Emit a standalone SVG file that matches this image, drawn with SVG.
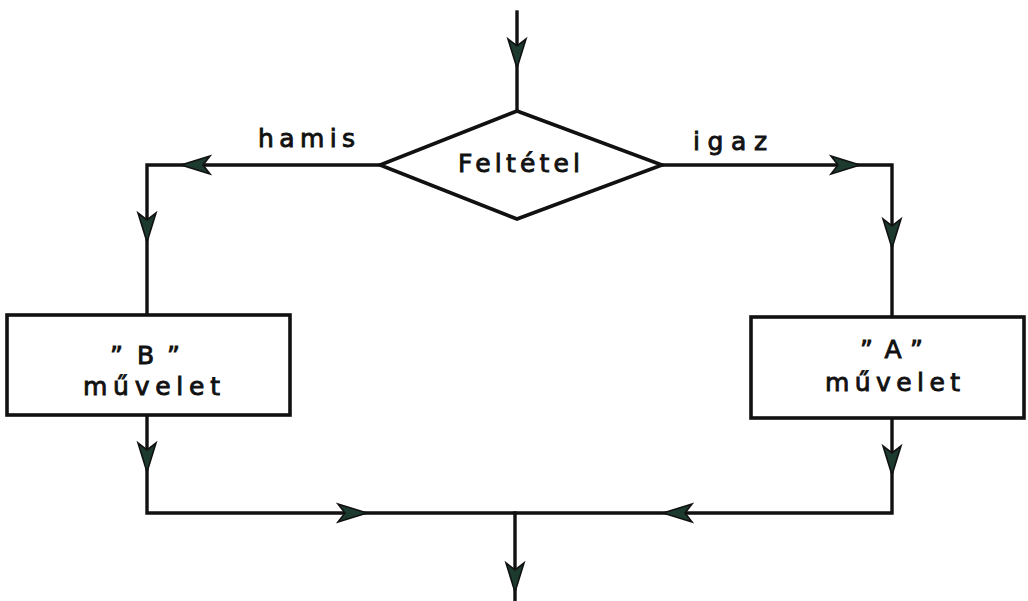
<svg xmlns="http://www.w3.org/2000/svg" xmlns:xlink="http://www.w3.org/1999/xlink" width="1028" height="601" viewBox="0 0 1028 601">
<style>
.ln{fill:none;stroke:#111;stroke-width:3.4;stroke-linejoin:miter;stroke-linecap:square}
.shape{fill:#fff;stroke:#111;stroke-width:3.6}
.t{font-family:"DejaVu Sans","Liberation Sans",sans-serif;font-size:25px;fill:#111;stroke:#111;stroke-width:0.9}
.ah{fill:#1d3a2e;stroke:#111;stroke-width:1.6;stroke-linejoin:miter}
</style>
<defs>
<path id="ah" class="ah" d="M0,0 L-29,-9 L-22,0 L-29,9 Z"/>
</defs>
<rect width="1028" height="601" fill="#fff"/>
<g id="connectors">
<path class="ln" d="M517,12 L517,111"/>
<path class="ln" d="M380,165 L147,165 L147,315"/>
<path class="ln" d="M662,165 L892,165 L892,317"/>
<path class="ln" d="M147,415 L147,513 L892,513 L892,418"/>
<path class="ln" d="M515,513 L515,601"/>
<use xlink:href="#ah" transform="translate(517,68) rotate(90)"/>
<use xlink:href="#ah" transform="translate(181,165) rotate(180)"/>
<use xlink:href="#ah" transform="translate(147,242) rotate(90)"/>
<use xlink:href="#ah" transform="translate(860,165)"/>
<use xlink:href="#ah" transform="translate(892,248) rotate(90)"/>
<use xlink:href="#ah" transform="translate(147,472) rotate(90)"/>
<use xlink:href="#ah" transform="translate(892,475) rotate(90)"/>
<use xlink:href="#ah" transform="translate(367,513)"/>
<use xlink:href="#ah" transform="translate(663,513) rotate(180)"/>
<use xlink:href="#ah" transform="translate(515,592) rotate(90)"/>
<text class="t" x="258" y="147" textLength="97" lengthAdjust="spacing">hamis</text>
<text class="t" x="693" y="150" textLength="74" lengthAdjust="spacing">igaz</text>
</g>
<g id="condition">
<polygon class="shape" points="517,111 662,165 517,219 380,165"/>
<text class="t" x="458" y="172" textLength="122" lengthAdjust="spacing" font-size="26">Feltétel</text>
</g>
<g id="opB">
<rect class="shape" x="7" y="315" width="283" height="100"/>
<text class="t" x="110" y="364" textLength="70" lengthAdjust="spacing">”B”</text>
<text class="t" x="83" y="395" textLength="137" lengthAdjust="spacing">művelet</text>
</g>
<g id="opA">
<rect class="shape" x="751" y="317" width="273" height="101"/>
<text class="t" x="860" y="358" textLength="63" lengthAdjust="spacing">”A”</text>
<text class="t" x="825" y="391" textLength="135" lengthAdjust="spacing">művelet</text>
</g>
</svg>
